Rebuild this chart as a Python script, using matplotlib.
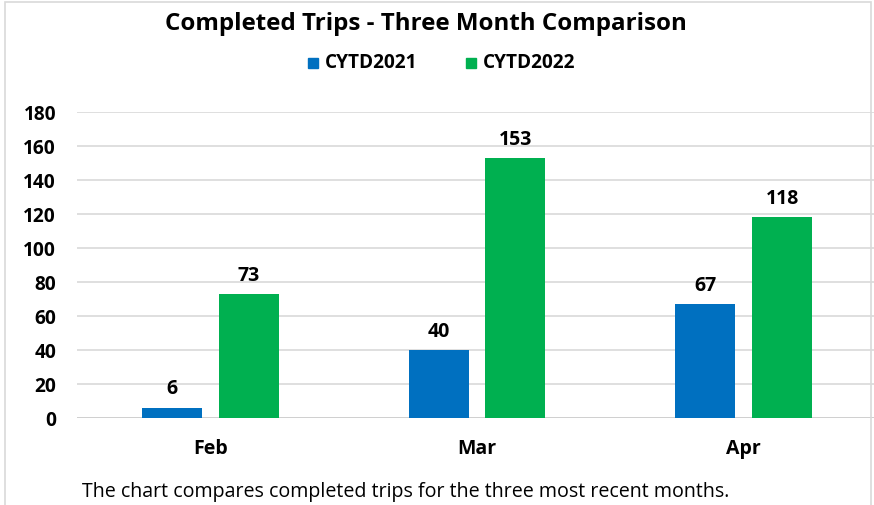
import matplotlib
matplotlib.use("Agg")
import matplotlib.pyplot as plt
import numpy as np
from matplotlib.patches import Rectangle

months = ["Feb", "Mar", "Apr"]
cytd2021 = [6, 40, 67]
cytd2022 = [73, 153, 118]
series_names = ["CYTD2021", "CYTD2022"]
yticks = [0, 20, 40, 60, 80, 100, 120, 140, 160, 180]

blue = "#0070C0"
green = "#00B050"
font = ["Open Sans", "DejaVu Sans"]
plt.rcParams["font.family"] = font

W, H = 874, 505
fig = plt.figure(figsize=(W / 100, H / 100), dpi=100)

# chart frame
fig.add_artist(Rectangle((5 / W, -0.1), 866 / W, 1.1 - 2 / H, transform=fig.transFigure,
                         fill=False, edgecolor="#D9D9D9", linewidth=1.2))

left, right = 77 / W, 877 / W
bottom, top = 1 - 418 / H, 1 - 112 / H
ax = fig.add_axes([left, bottom, right - left, top - bottom])
ax.set_xlim(-0.5, 2.5)
ax.set_ylim(0, 180)

x = np.arange(len(months))
bw = 0.225
off = 0.144
b1 = ax.bar(x - off, cytd2021, bw, color=blue, zorder=3)
b2 = ax.bar(x + off, cytd2022, bw, color=green, zorder=3)

for bars, vals in ((b1, cytd2021), (b2, cytd2022)):
    for rect, v in zip(bars, vals):
        ax.annotate(str(v), (rect.get_x() + rect.get_width() / 2, v),
                    xytext=(0, 6), textcoords="offset points",
                    ha="center", va="bottom", fontsize=14, fontweight="bold")

ax.set_yticks(yticks)
ax.set_yticklabels([str(t) for t in yticks], fontsize=13.8, fontweight="bold")
ax.set_xticks(x)
ax.set_xticklabels(months, fontsize=14, fontweight="bold")
ax.tick_params(axis="both", length=0)
ax.tick_params(axis="y", pad=15)
ax.tick_params(axis="x", pad=15)
ax.grid(axis="y", color="#D9D9D9", linewidth=1.2, zorder=0)
for s in ax.spines.values():
    s.set_visible(False)
ax.axhline(0, color="#D0D0D0", linewidth=1.4, zorder=2)

fig.text(426 / W, 1 - 24 / H, "Completed Trips - Three Month Comparison",
         ha="center", va="center", fontsize=17.4, fontweight="bold")

# legend
for name, col, sx in ((series_names[0], blue, 308), (series_names[1], green, 466)):
    fig.add_artist(Rectangle((sx / W, 1 - 68 / H), 10 / W, 10 / H,
                             transform=fig.transFigure, color=col))
    fig.text((sx + 17) / W, 1 - 63 / H, name, ha="left", va="center",
             fontsize=13.7, fontweight="bold")

fig.text(82 / W, 1 - 492 / H,
         "The chart compares completed trips for the three most recent months.",
         ha="left", va="center", fontsize=14.1)

fig.savefig("out.png", dpi=100)
